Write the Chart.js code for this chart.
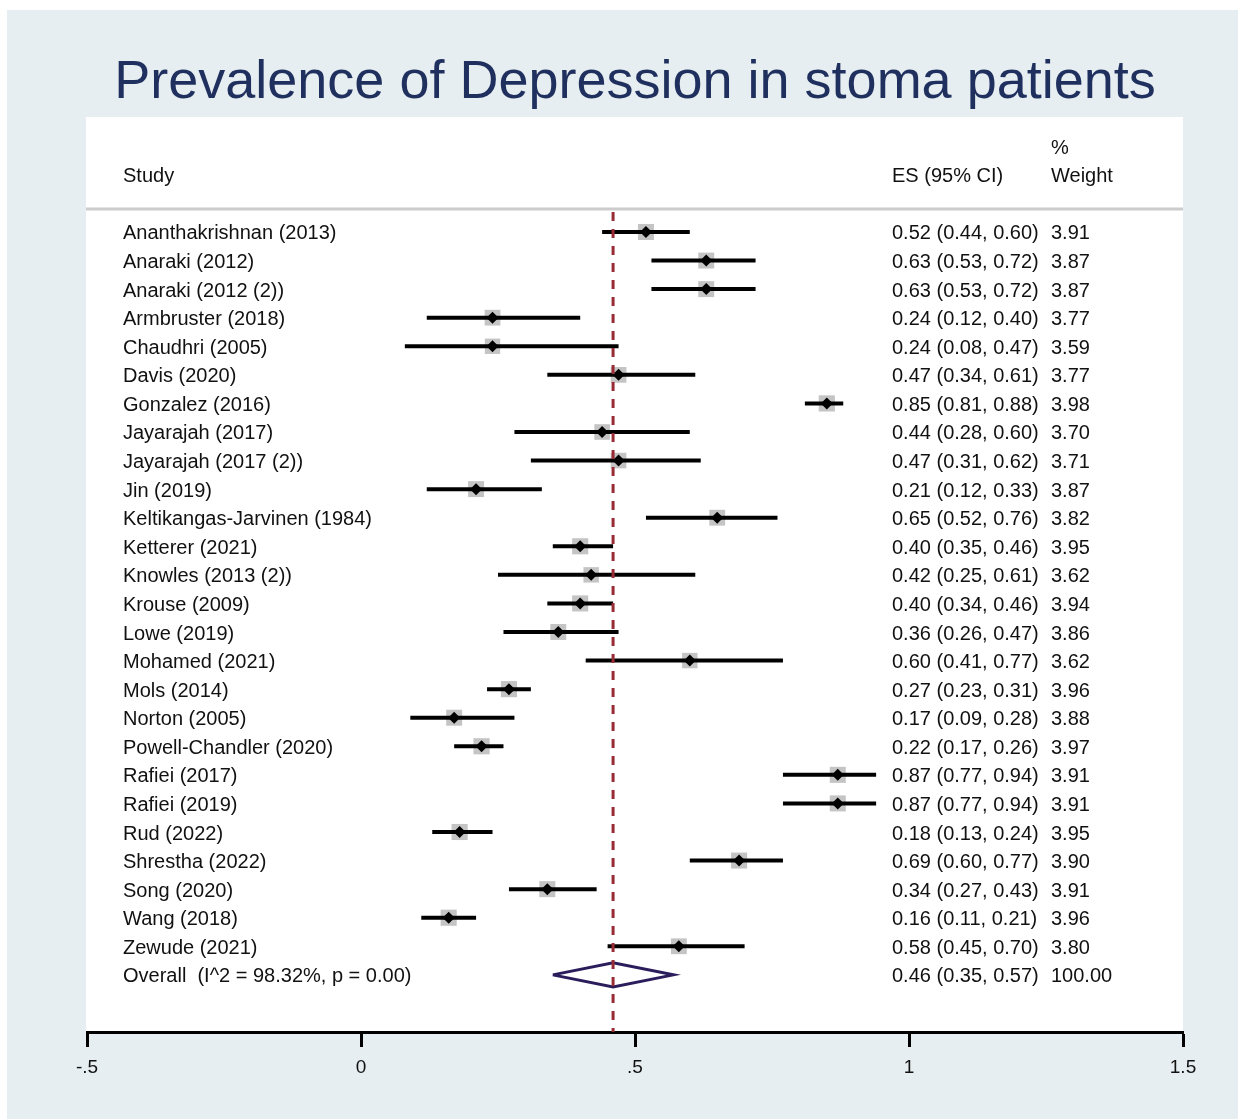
<!DOCTYPE html>
<html>
<head>
<meta charset="utf-8">
<title>Prevalence of Depression in stoma patients</title>
<script src="https://cdn.jsdelivr.net/npm/chart.js@4.4.1/dist/chart.umd.min.js"></script>
<style>
  html, body { margin: 0; padding: 0; background: #ffffff; }
  #wrap { width: 1238px; height: 1119px; }
</style>
</head>
<body>
<div id="wrap"><canvas id="forest" width="1238" height="1119"></canvas></div>
<script>
// Study-level estimates (proportion with 95% CI) and random-effects weights
const studies = [
  "Ananthakrishnan (2013)", "Anaraki (2012)", "Anaraki (2012 (2))", "Armbruster (2018)",
  "Chaudhri (2005)", "Davis (2020)", "Gonzalez (2016)", "Jayarajah (2017)",
  "Jayarajah (2017 (2))", "Jin (2019)", "Keltikangas-Jarvinen (1984)", "Ketterer (2021)",
  "Knowles (2013 (2))", "Krouse (2009)", "Lowe (2019)", "Mohamed (2021)",
  "Mols (2014)", "Norton (2005)", "Powell-Chandler (2020)", "Rafiei (2017)",
  "Rafiei (2019)", "Rud (2022)", "Shrestha (2022)", "Song (2020)",
  "Wang (2018)", "Zewude (2021)"
];
const es = [0.52, 0.63, 0.63, 0.24, 0.24, 0.47, 0.85, 0.44, 0.47, 0.21, 0.65, 0.40, 0.42,
            0.40, 0.36, 0.60, 0.27, 0.17, 0.22, 0.87, 0.87, 0.18, 0.69, 0.34, 0.16, 0.58];
const ciLow = [0.44, 0.53, 0.53, 0.12, 0.08, 0.34, 0.81, 0.28, 0.31, 0.12, 0.52, 0.35, 0.25,
               0.34, 0.26, 0.41, 0.23, 0.09, 0.17, 0.77, 0.77, 0.13, 0.60, 0.27, 0.11, 0.45];
const ciHigh = [0.60, 0.72, 0.72, 0.40, 0.47, 0.61, 0.88, 0.60, 0.62, 0.33, 0.76, 0.46, 0.61,
                0.46, 0.47, 0.77, 0.31, 0.28, 0.26, 0.94, 0.94, 0.24, 0.77, 0.43, 0.21, 0.70];
const weights = [3.91, 3.87, 3.87, 3.77, 3.59, 3.77, 3.98, 3.70, 3.71, 3.87, 3.82, 3.95, 3.62,
                 3.94, 3.86, 3.62, 3.96, 3.88, 3.97, 3.91, 3.91, 3.95, 3.90, 3.91, 3.96, 3.80];

// Pooled estimate and heterogeneity
const overall = { es: 0.46, low: 0.35, high: 0.57, weight: 100.00 };
const iSquared = 98.32;
const pValue = 0.00;

// Axis ticks
const xTicks = [-0.5, 0, 0.5, 1, 1.5];
const xTickLabels = ["-.5", "0", ".5", "1", "1.5"];

const titleText = "Prevalence of Depression in stoma patients";
const FONT = '"Liberation Sans", Arial, Helvetica, sans-serif';

const overallRow = studies.length;
const fmt = v => v.toFixed(2);

// Row index i is the y value; the y axis is reversed so row 0 sits at the top
const boxData = studies.map((s, i) => ({ x: es[i], y: i }));
const boxRadius = weights.map(w => 16 * Math.sqrt(w / 3.9) / (2 * Math.SQRT1_2));

const ciDatasets = studies.map((s, i) => ({
  type: 'scatter',
  showLine: true,
  data: [{ x: ciLow[i], y: i }, { x: ciHigh[i], y: i }],
  borderColor: '#000000',
  borderWidth: 4,
  borderCapStyle: 'butt',
  pointRadius: 0,
  order: 2
}));

const dh = 0.42; // half-height of the pooled diamond, in row units
const diamondData = [
  { x: overall.low, y: overallRow },
  { x: overall.es, y: overallRow - dh },
  { x: overall.high, y: overallRow },
  { x: overall.es, y: overallRow + dh },
  { x: overall.low, y: overallRow }
];

// Background panels, title and the text columns
const decorPlugin = {
  id: 'forestDecor',
  beforeDraw(chart) {
    const { ctx, chartArea: a, width, height } = chart;
    ctx.save();
    ctx.fillStyle = '#ffffff';
    ctx.fillRect(0, 0, width, height);
    ctx.fillStyle = '#e7eef1';
    ctx.fillRect(7, 10, width - 7, height - 10);
    ctx.fillStyle = '#ffffff';
    ctx.fillRect(a.left - 1, a.top, a.right - a.left + 1, a.bottom - a.top);

    // title, centred over the plot region
    ctx.fillStyle = '#1f2f5e';
    ctx.font = '54px ' + FONT;
    ctx.textAlign = 'center';
    ctx.textBaseline = 'alphabetic';
    ctx.fillText(titleText, (a.left + a.right) / 2, 98);

    // header rule
    const ys = chart.scales.y;
    const ruleY = ys.getPixelForValue(-0.8);
    ctx.strokeStyle = '#cccccc';
    ctx.lineWidth = 3;
    ctx.beginPath();
    ctx.moveTo(a.left - 1, ruleY);
    ctx.lineTo(a.right, ruleY);
    ctx.stroke();
    ctx.restore();
  },
  afterDraw(chart) {
    const { ctx, chartArea: a } = chart;
    const ys = chart.scales.y;
    const colStudy = a.left + 36;
    const colEs = a.right - 291;
    const colW = a.right - 132;
    const dy = 2; // optical baseline nudge for the table text
    ctx.save();
    ctx.fillStyle = '#111111';
    ctx.font = '20px ' + FONT;
    ctx.textAlign = 'left';
    ctx.textBaseline = 'middle';

    ctx.fillText('Study', colStudy, ys.getPixelForValue(-2) + dy);
    ctx.fillText('ES (95% CI)', colEs, ys.getPixelForValue(-2) + dy);
    ctx.fillText('%', colW, ys.getPixelForValue(-3) + dy);
    ctx.fillText('Weight', colW, ys.getPixelForValue(-2) + dy);

    studies.forEach((s, i) => {
      const y = ys.getPixelForValue(i) + dy;
      ctx.fillText(s, colStudy, y);
      ctx.fillText(fmt(es[i]) + ' (' + fmt(ciLow[i]) + ', ' + fmt(ciHigh[i]) + ')', colEs, y);
      ctx.fillText(fmt(weights[i]), colW, y);
    });

    const yo = ys.getPixelForValue(overallRow) + dy;
    ctx.fillText('Overall  (I^2 = ' + iSquared.toFixed(2) + '%, p = ' + pValue.toFixed(2) + ')', colStudy, yo);
    ctx.fillText(fmt(overall.es) + ' (' + fmt(overall.low) + ', ' + fmt(overall.high) + ')', colEs, yo);
    ctx.fillText(overall.weight.toFixed(2), colW, yo);
    ctx.restore();
  }
};

new Chart(document.getElementById('forest'), {
  type: 'scatter',
  data: {
    datasets: [
      {
        // pooled-estimate reference line
        showLine: true,
        data: [{ x: overall.es, y: -0.7 }, { x: overall.es, y: 28 }],
        borderColor: '#982b36',
        borderWidth: 3,
        borderDash: [9, 8],
        borderCapStyle: 'butt',
        pointRadius: 0,
        order: 0
      },
      {
        // study point estimates
        data: boxData,
        pointStyle: 'rectRot',
        pointRadius: 6,
        backgroundColor: '#000000',
        borderWidth: 0,
        order: 1
      },
      ...ciDatasets,
      {
        // weight boxes
        data: boxData,
        pointStyle: 'rect',
        pointRadius: boxRadius,
        backgroundColor: '#c4c4c4',
        borderWidth: 0,
        order: 3
      },
      {
        // pooled estimate diamond
        showLine: true,
        data: diamondData,
        borderColor: '#2b1d5c',
        borderWidth: 3,
        borderJoinStyle: 'miter',
        pointRadius: 0,
        fill: false,
        order: 1
      }
    ]
  },
  options: {
    responsive: false,
    animation: false,
    events: [],
    layout: { padding: { left: 87, right: 55, top: 117, bottom: 0 } },
    plugins: {
      legend: { display: false },
      tooltip: { enabled: false },
      title: { display: false }
    },
    scales: {
      x: {
        type: 'linear',
        min: -0.5,
        max: 1.5,
        afterBuildTicks(scale) {
          scale.ticks = xTicks.map(v => ({ value: v }));
        },
        afterFit(scale) { scale.height = 87; },
        ticks: {
          callback: (v) => {
            const k = xTicks.indexOf(v);
            return k >= 0 ? xTickLabels[k] : '';
          },
          font: { family: FONT, size: 19 },
          color: '#111111',
          padding: 9,
          maxRotation: 0,
          autoSkip: false
        },
        grid: {
          display: true,
          drawOnChartArea: false,
          drawTicks: true,
          tickLength: 15,
          tickWidth: 3,
          tickColor: '#000000'
        },
        border: { display: true, color: '#000000', width: 3 }
      },
      y: {
        type: 'linear',
        reverse: true,
        min: -4.024,
        max: 28,
        display: false
      }
    }
  },
  plugins: [decorPlugin]
});
</script>
</body>
</html>
